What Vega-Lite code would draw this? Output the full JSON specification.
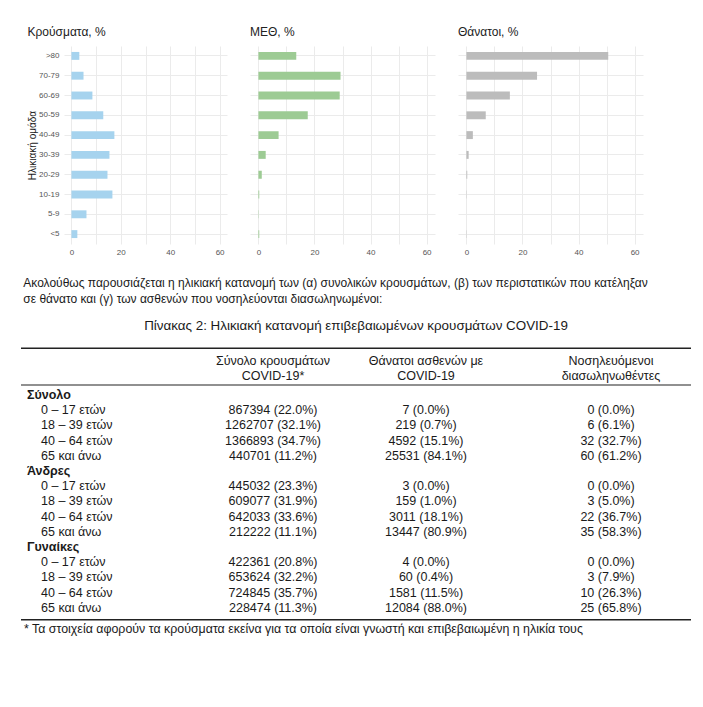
{
  "$schema": "https://vega.github.io/schema/vega-lite/v6.json",
  "background": "white",
  "padding": {"left": 20, "top": 26, "right": 5, "bottom": 5},
  "config": {
    "view": {"stroke": null},
    "font": "Liberation Sans",
    "axis": {"gridColor": "#ebebeb", "gridWidth": 1, "domain": false, "ticks": false, "labelColor": "#555555", "labelFontSize": 8, "labelFont": "Liberation Sans"},
    "title": {"font": "Liberation Sans", "fontWeight": "normal", "color": "#222222"}
  },
  "datasets": {
    "ages": [
      {"age": ">80", "cases": 3.2, "icu": 13.5, "deaths": 50.6},
      {"age": "70-79", "cases": 4.9, "icu": 29.3, "deaths": 25.2},
      {"age": "60-69", "cases": 8.5, "icu": 29.0, "deaths": 15.5},
      {"age": "50-59", "cases": 12.9, "icu": 17.6, "deaths": 6.9},
      {"age": "40-49", "cases": 17.4, "icu": 7.2, "deaths": 2.3},
      {"age": "30-39", "cases": 15.4, "icu": 2.6, "deaths": 0.8},
      {"age": "20-29", "cases": 14.6, "icu": 1.2, "deaths": 0.3},
      {"age": "10-19", "cases": 16.6, "icu": 0.3, "deaths": 0.1},
      {"age": "5-9", "cases": 6.1, "icu": 0.1, "deaths": 0.0},
      {"age": "<5", "cases": 2.4, "icu": 0.3, "deaths": 0.1}
    ],
    "tbl": [
      {"key": "h1", "kind": "head", "label": null, "c1": "Σύνολο κρουσμάτων", "c2": "Θάνατοι ασθενών με", "c3": "Νοσηλευόμενοι"},
      {"key": "h2", "kind": "head", "label": null, "c1": "COVID-19*", "c2": "COVID-19", "c3": "διασωληνωθέντες"},
      {"key": "T", "kind": "group", "label": "Σύνολο", "c1": null, "c2": null, "c3": null},
      {"key": "T1", "kind": "sub", "label": "0 – 17 ετών", "c1": "867394 (22.0%)", "c2": "7 (0.0%)", "c3": "0 (0.0%)"},
      {"key": "T2", "kind": "sub", "label": "18 – 39 ετών", "c1": "1262707 (32.1%)", "c2": "219 (0.7%)", "c3": "6 (6.1%)"},
      {"key": "T3", "kind": "sub", "label": "40 – 64 ετών", "c1": "1366893 (34.7%)", "c2": "4592 (15.1%)", "c3": "32 (32.7%)"},
      {"key": "T4", "kind": "sub", "label": "65 και άνω", "c1": "440701 (11.2%)", "c2": "25531 (84.1%)", "c3": "60 (61.2%)"},
      {"key": "M", "kind": "group", "label": "Άνδρες", "c1": null, "c2": null, "c3": null},
      {"key": "M1", "kind": "sub", "label": "0 – 17 ετών", "c1": "445032 (23.3%)", "c2": "3 (0.0%)", "c3": "0 (0.0%)"},
      {"key": "M2", "kind": "sub", "label": "18 – 39 ετών", "c1": "609077 (31.9%)", "c2": "159 (1.0%)", "c3": "3 (5.0%)"},
      {"key": "M3", "kind": "sub", "label": "40 – 64 ετών", "c1": "642033 (33.6%)", "c2": "3011 (18.1%)", "c3": "22 (36.7%)"},
      {"key": "M4", "kind": "sub", "label": "65 και άνω", "c1": "212222 (11.1%)", "c2": "13447 (80.9%)", "c3": "35 (58.3%)"},
      {"key": "F", "kind": "group", "label": "Γυναίκες", "c1": null, "c2": null, "c3": null},
      {"key": "F1", "kind": "sub", "label": "0 – 17 ετών", "c1": "422361 (20.8%)", "c2": "4 (0.0%)", "c3": "0 (0.0%)"},
      {"key": "F2", "kind": "sub", "label": "18 – 39 ετών", "c1": "653624 (32.2%)", "c2": "60 (0.4%)", "c3": "3 (7.9%)"},
      {"key": "F3", "kind": "sub", "label": "40 – 64 ετών", "c1": "724845 (35.7%)", "c2": "1581 (11.5%)", "c3": "10 (26.3%)"},
      {"key": "F4", "kind": "sub", "label": "65 και άνω", "c1": "228474 (11.3%)", "c2": "12084 (88.0%)", "c3": "25 (65.8%)"},
      {"key": "fn", "kind": "foot", "label": "* Τα στοιχεία αφορούν τα κρούσματα εκείνα για τα οποία είναι γνωστή και επιβεβαιωμένη η ηλικία τους", "c1": null, "c2": null, "c3": null}
    ],
    "rules": [
      {"at": "h1", "edge": "top"},
      {"at": "T", "edge": "mid"},
      {"at": "fn", "edge": "bottom"}
    ]
  },
  "spacing": 21,
  "vconcat": [
    {
      "spacing": 23,
      "bounds": "flush",
      "hconcat": [
        {
          "width": 20, "height": 198,
          "data": {"values": []},
          "mark": {"type": "text"},
          "encoding": {}
        },
        {
          "width": 163, "height": 198,
          "title": {"text": "Κρούσματα, %", "anchor": "start", "fontSize": 12, "offset": 7},
          "data": {"name": "ages"},
          "mark": {"type": "bar", "color": "#a6d3ee"},
          "encoding": {
            "y": {"field": "age", "type": "nominal", "scale": {"domain": [">80", "70-79", "60-69", "50-59", "40-49", "30-39", "20-29", "10-19", "5-9", "<5"], "paddingInner": 0.6, "paddingOuter": 0.3}, "axis": {"title": "Ηλικιακή ομάδα", "grid": true, "bandPosition": 0.5, "labelPadding": 5, "titleFontSize": 10, "titleFontWeight": "normal", "titlePadding": 1, "titleColor": "#222222"}},
            "x": {"field": "cases", "type": "quantitative", "scale": {"domain": [-3, 63], "nice": false, "zero": false}, "axis": {"title": null, "values": [0, 10, 20, 30, 40, 50, 60], "labelExpr": "datum.value % 20 === 0 ? datum.label : ''", "grid": true, "labelPadding": 4}},
            "x2": {"datum": 0}
          }
        },
        {
          "width": 185, "height": 198,
          "title": {"text": "ΜΕΘ, %", "anchor": "start", "fontSize": 12, "offset": 7},
          "data": {"name": "ages"},
          "mark": {"type": "bar", "color": "#9dcb94"},
          "encoding": {
            "y": {"field": "age", "type": "nominal", "scale": {"domain": [">80", "70-79", "60-69", "50-59", "40-49", "30-39", "20-29", "10-19", "5-9", "<5"], "paddingInner": 0.6, "paddingOuter": 0.3}, "axis": {"title": null, "labels": false, "grid": true, "bandPosition": 0.5}},
            "x": {"field": "icu", "type": "quantitative", "scale": {"domain": [-3, 63], "nice": false, "zero": false}, "axis": {"title": null, "values": [0, 10, 20, 30, 40, 50, 60], "labelExpr": "datum.value % 20 === 0 ? datum.label : ''", "grid": true, "labelPadding": 4}},
            "x2": {"datum": 0}
          }
        },
        {
          "width": 185, "height": 198,
          "title": {"text": "Θάνατοι, %", "anchor": "start", "fontSize": 12, "offset": 7},
          "data": {"name": "ages"},
          "mark": {"type": "bar", "color": "#bcbcbc"},
          "encoding": {
            "y": {"field": "age", "type": "nominal", "scale": {"domain": [">80", "70-79", "60-69", "50-59", "40-49", "30-39", "20-29", "10-19", "5-9", "<5"], "paddingInner": 0.6, "paddingOuter": 0.3}, "axis": {"title": null, "labels": false, "grid": true, "bandPosition": 0.5}},
            "x": {"field": "deaths", "type": "quantitative", "scale": {"domain": [-3, 63], "nice": false, "zero": false}, "axis": {"title": null, "values": [0, 10, 20, 30, 40, 50, 60], "labelExpr": "datum.value % 20 === 0 ? datum.label : ''", "grid": true, "labelPadding": 4}},
            "x2": {"datum": 0}
          }
        }
      ]
    },
    {
      "title": {"text": ["Ακολούθως παρουσιάζεται η ηλικιακή κατανομή των (α) συνολικών κρουσμάτων, (β) των περιστατικών που κατέληξαν", "σε θάνατο και (γ) των ασθενών που νοσηλεύονται διασωληνωμένοι:"], "anchor": "start", "font": "Liberation Sans", "fontSize": 12, "lineHeight": 16, "offset": 13, "dx": 3, "color": "#1a1a1a"},
      "vconcat": [
        {
          "spacing": 0,
          "bounds": "flush",
          "title": {"text": "Πίνακας 2: Ηλικιακή κατανομή επιβεβαιωμένων κρουσμάτων COVID-19", "anchor": "middle", "font": "Liberation Sans", "fontSize": 13.4, "offset": 15, "color": "#1a1a1a"},
          "hconcat": [
            {
              "width": 204, "height": 273.6,
              "layer": [
                {"data": {"name": "tbl"}, "transform": [{"filter": "datum.kind === 'group'"}],
                 "mark": {"type": "text", "align": "left", "dx": 6, "font": "Liberation Sans", "fontWeight": "bold", "fontSize": 12.5, "color": "#1a1a1a"},
                 "encoding": {"y": {"field": "key", "type": "nominal", "scale": {"type": "band", "domain": ["h1","h2","T","T1","T2","T3","T4","M","M1","M2","M3","M4","F","F1","F2","F3","F4","fn"], "paddingInner": 0, "paddingOuter": 0}, "axis": null},
                              "x": {"datum": 0, "type": "quantitative", "scale": {"domain": [0, 1]}, "axis": null},
                              "text": {"field": "label"}}},
                {"data": {"name": "tbl"}, "transform": [{"filter": "datum.kind === 'sub'"}],
                 "mark": {"type": "text", "align": "left", "dx": 20, "font": "Liberation Sans", "fontSize": 12.5, "color": "#1a1a1a"},
                 "encoding": {"y": {"field": "key", "type": "nominal", "axis": null},
                              "x": {"datum": 0, "type": "quantitative", "axis": null},
                              "text": {"field": "label"}}},
                {"data": {"name": "tbl"}, "transform": [{"filter": "datum.kind === 'foot'"}],
                 "mark": {"type": "text", "align": "left", "dx": 3, "dy": 6, "font": "Liberation Sans", "fontSize": 12.4, "color": "#1a1a1a"},
                 "encoding": {"y": {"field": "key", "type": "nominal", "axis": null},
                              "x": {"datum": 0, "type": "quantitative", "axis": null},
                              "text": {"field": "label"}}},
                {"data": {"name": "rules"}, "transform": [{"filter": "datum.edge === 'top'"}], "mark": {"type": "rule", "color": "#222222", "strokeWidth": 1.4, "yOffset": -8.7}, "encoding": {"y": {"field": "at", "type": "nominal", "bandPosition": 0, "axis": null}}},
                {"data": {"name": "rules"}, "transform": [{"filter": "datum.edge === 'mid'"}], "mark": {"type": "rule", "color": "#222222", "strokeWidth": 1.2, "yOffset": -2.4}, "encoding": {"y": {"field": "at", "type": "nominal", "bandPosition": 0, "axis": null}}},
                {"data": {"name": "rules"}, "transform": [{"filter": "datum.edge === 'bottom'"}], "mark": {"type": "rule", "color": "#222222", "strokeWidth": 1.4, "yOffset": 4.3}, "encoding": {"y": {"field": "at", "type": "nominal", "bandPosition": 0, "axis": null}}}
              ]
            },
            {
              "width": 96, "height": 273.6,
              "layer": [
                {"data": {"name": "tbl"}, "transform": [{"filter": "datum.kind === 'head'"}],
                 "mark": {"type": "text", "dy": -4, "font": "Liberation Sans", "fontSize": 12.5, "color": "#1a1a1a"},
                 "encoding": {"y": {"field": "key", "type": "nominal", "scale": {"type": "band", "domain": ["h1","h2","T","T1","T2","T3","T4","M","M1","M2","M3","M4","F","F1","F2","F3","F4","fn"], "paddingInner": 0, "paddingOuter": 0}, "axis": null},
                              "text": {"field": "c1"}}},
                {"data": {"name": "tbl"}, "transform": [{"filter": "datum.kind === 'sub'"}],
                 "mark": {"type": "text", "font": "Liberation Sans", "fontSize": 12.5, "color": "#1a1a1a"},
                 "encoding": {"y": {"field": "key", "type": "nominal", "axis": null}, "text": {"field": "c1"}}},
                {"data": {"name": "rules"}, "transform": [{"filter": "datum.edge === 'top'"}], "mark": {"type": "rule", "color": "#222222", "strokeWidth": 1.4, "yOffset": -8.7}, "encoding": {"y": {"field": "at", "type": "nominal", "bandPosition": 0, "axis": null}}},
                {"data": {"name": "rules"}, "transform": [{"filter": "datum.edge === 'mid'"}], "mark": {"type": "rule", "color": "#222222", "strokeWidth": 1.2, "yOffset": -2.4}, "encoding": {"y": {"field": "at", "type": "nominal", "bandPosition": 0, "axis": null}}},
                {"data": {"name": "rules"}, "transform": [{"filter": "datum.edge === 'bottom'"}], "mark": {"type": "rule", "color": "#222222", "strokeWidth": 1.4, "yOffset": 4.3}, "encoding": {"y": {"field": "at", "type": "nominal", "bandPosition": 0, "axis": null}}}
              ]
            },
            {
              "width": 210, "height": 273.6,
              "layer": [
                {"data": {"name": "tbl"}, "transform": [{"filter": "datum.kind === 'head'"}],
                 "mark": {"type": "text", "dy": -4, "font": "Liberation Sans", "fontSize": 12.5, "color": "#1a1a1a"},
                 "encoding": {"y": {"field": "key", "type": "nominal", "scale": {"type": "band", "domain": ["h1","h2","T","T1","T2","T3","T4","M","M1","M2","M3","M4","F","F1","F2","F3","F4","fn"], "paddingInner": 0, "paddingOuter": 0}, "axis": null},
                              "text": {"field": "c2"}}},
                {"data": {"name": "tbl"}, "transform": [{"filter": "datum.kind === 'sub'"}],
                 "mark": {"type": "text", "font": "Liberation Sans", "fontSize": 12.5, "color": "#1a1a1a"},
                 "encoding": {"y": {"field": "key", "type": "nominal", "axis": null}, "text": {"field": "c2"}}},
                {"data": {"name": "rules"}, "transform": [{"filter": "datum.edge === 'top'"}], "mark": {"type": "rule", "color": "#222222", "strokeWidth": 1.4, "yOffset": -8.7}, "encoding": {"y": {"field": "at", "type": "nominal", "bandPosition": 0, "axis": null}}},
                {"data": {"name": "rules"}, "transform": [{"filter": "datum.edge === 'mid'"}], "mark": {"type": "rule", "color": "#222222", "strokeWidth": 1.2, "yOffset": -2.4}, "encoding": {"y": {"field": "at", "type": "nominal", "bandPosition": 0, "axis": null}}},
                {"data": {"name": "rules"}, "transform": [{"filter": "datum.edge === 'bottom'"}], "mark": {"type": "rule", "color": "#222222", "strokeWidth": 1.4, "yOffset": 4.3}, "encoding": {"y": {"field": "at", "type": "nominal", "bandPosition": 0, "axis": null}}}
              ]
            },
            {
              "width": 160, "height": 273.6,
              "layer": [
                {"data": {"name": "tbl"}, "transform": [{"filter": "datum.kind === 'head'"}],
                 "mark": {"type": "text", "dy": -4, "font": "Liberation Sans", "fontSize": 12.5, "color": "#1a1a1a"},
                 "encoding": {"y": {"field": "key", "type": "nominal", "scale": {"type": "band", "domain": ["h1","h2","T","T1","T2","T3","T4","M","M1","M2","M3","M4","F","F1","F2","F3","F4","fn"], "paddingInner": 0, "paddingOuter": 0}, "axis": null},
                              "text": {"field": "c3"}}},
                {"data": {"name": "tbl"}, "transform": [{"filter": "datum.kind === 'sub'"}],
                 "mark": {"type": "text", "font": "Liberation Sans", "fontSize": 12.5, "color": "#1a1a1a"},
                 "encoding": {"y": {"field": "key", "type": "nominal", "axis": null}, "text": {"field": "c3"}}},
                {"data": {"name": "rules"}, "transform": [{"filter": "datum.edge === 'top'"}], "mark": {"type": "rule", "color": "#222222", "strokeWidth": 1.4, "yOffset": -8.7}, "encoding": {"y": {"field": "at", "type": "nominal", "bandPosition": 0, "axis": null}}},
                {"data": {"name": "rules"}, "transform": [{"filter": "datum.edge === 'mid'"}], "mark": {"type": "rule", "color": "#222222", "strokeWidth": 1.2, "yOffset": -2.4}, "encoding": {"y": {"field": "at", "type": "nominal", "bandPosition": 0, "axis": null}}},
                {"data": {"name": "rules"}, "transform": [{"filter": "datum.edge === 'bottom'"}], "mark": {"type": "rule", "color": "#222222", "strokeWidth": 1.4, "yOffset": 4.3}, "encoding": {"y": {"field": "at", "type": "nominal", "bandPosition": 0, "axis": null}}}
              ]
            }
          ]
        }
      ]
    }
  ]
}
